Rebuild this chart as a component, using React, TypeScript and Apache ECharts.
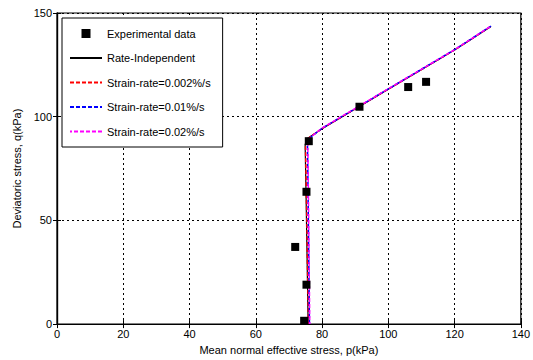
import React, { useEffect, useRef } from "react";
import * as echarts from "echarts";

const expP = [74.6, 75.3, 71.9, 75.3, 76.0, 91.3, 106.0, 111.4];
const expQ = [1.6, 19.0, 37.2, 63.8, 88.2, 104.8, 114.3, 116.8];

const rateIndepP = [75.8, 75.5, 75.2, 74.9, 75.6, 80, 100, 120, 131];
const rateIndepQ = [0, 30, 60, 86.5, 89.5, 94.2, 113.2, 132.2, 143.5];

const sr002P = [75.9, 75.6, 75.3, 75.0, 75.8, 80, 100, 120, 131];
const sr002Q = [0, 30, 60, 86.8, 89.6, 94.3, 113.3, 132.2, 143.6];

const sr01P = [76.2, 76.0, 75.8, 75.6, 76.3, 80, 100, 120, 131];
const sr01Q = [0, 30, 60, 87.2, 89.8, 94.4, 113.4, 132.3, 143.7];

const sr02P = [76.3, 76.1, 75.9, 75.7, 76.4, 80, 100, 120, 131];
const sr02Q = [0, 30, 60, 87.4, 89.9, 94.5, 113.5, 132.3, 143.7];

const zip = (a: number[], b: number[]) => a.map((v, i) => [v, b[i]]);

const FONT = "Liberation Sans, Arial, sans-serif";

export default function App() {
  const ref = useRef<HTMLDivElement>(null);
  useEffect(() => {
    if (!ref.current) return;
    const chart = echarts.init(ref.current, undefined, { renderer: "svg" });
    const gridLine = { show: true, lineStyle: { color: "#000", type: [2, 3] as any, width: 1 } };
    const hideSym = { opacity: 0 };
    chart.setOption({
      animation: false,
      backgroundColor: "#fff",
      textStyle: { fontFamily: FONT },
      grid: { left: 57, right: 12, top: 13, bottom: 34, show: true, borderColor: "#000", borderWidth: 1.2, backgroundColor: "transparent" },
      legend: {
        orient: "vertical",
        left: 62,
        top: 18,
        width: 156,
        backgroundColor: "#fff",
        borderColor: "#000",
        borderWidth: 1,
        borderRadius: 0,
        padding: [9, 12, 9, 7],
        itemWidth: 32,
        itemHeight: 9,
        itemGap: 11.5,
        textStyle: { fontFamily: FONT, fontSize: 11, color: "#000", lineHeight: 13 },
        data: [
          { name: "Experimental data", icon: "path://M0,0h10v10h-10z", itemStyle: { color: "#000", opacity: 1 } },
          { name: "Rate-Independent", itemStyle: hideSym },
          { name: "Strain-rate=0.002%/s", itemStyle: hideSym },
          { name: "Strain-rate=0.01%/s", itemStyle: hideSym },
          { name: "Strain-rate=0.02%/s", itemStyle: hideSym },
        ],
      },
      xAxis: [
        {
          type: "value",
          min: 0,
          max: 140,
          interval: 20,
          name: "Mean normal effective stress, p(kPa)",
          nameLocation: "middle",
          nameGap: 18,
          nameTextStyle: { fontFamily: FONT, fontSize: 11, color: "#000" },
          axisLine: { show: true, lineStyle: { color: "#000", width: 1.2 } },
          axisTick: { show: true, inside: true, length: 4, lineStyle: { color: "#000" } },
          axisLabel: { fontFamily: FONT, fontSize: 11, color: "#000", margin: 4 },
          splitLine: gridLine,
        },
        {
          type: "value",
          position: "top",
          min: 0,
          max: 140,
          interval: 20,
          axisLine: { show: true, lineStyle: { color: "#000", width: 1.2 } },
          axisTick: { show: true, inside: true, length: 4, lineStyle: { color: "#000" } },
          axisLabel: { show: false },
          splitLine: { show: false },
        },
      ],
      yAxis: [
        {
          type: "value",
          min: 0,
          max: 150,
          interval: 50,
          name: "Deviatoric stress, q(kPa)",
          nameLocation: "middle",
          nameGap: 30,
          nameTextStyle: { fontFamily: FONT, fontSize: 11, color: "#000" },
          axisLine: { show: true, lineStyle: { color: "#000", width: 1.2 } },
          axisTick: { show: true, inside: true, length: 4, lineStyle: { color: "#000" } },
          axisLabel: { fontFamily: FONT, fontSize: 11, color: "#000", margin: 5 },
          splitLine: gridLine,
        },
        {
          type: "value",
          position: "right",
          min: 0,
          max: 150,
          interval: 50,
          axisLine: { show: true, lineStyle: { color: "#000", width: 1.2 } },
          axisTick: { show: true, inside: true, length: 4, lineStyle: { color: "#000" } },
          axisLabel: { show: false },
          splitLine: { show: false },
        },
      ],
      series: [
        {
          name: "Rate-Independent",
          type: "line",
          data: zip(rateIndepP, rateIndepQ),
          showSymbol: false,
          symbol: "none",
          lineStyle: { color: "#000", width: 1.2, type: "solid" },
          itemStyle: { color: "#000" },
          z: 2,
        },
        {
          name: "Strain-rate=0.002%/s",
          type: "line",
          data: zip(sr002P, sr002Q),
          showSymbol: false,
          symbol: "none",
          lineStyle: { color: "#ff0000", width: 1.5, type: [4, 2] },
          itemStyle: { color: "#ff0000" },
          z: 3,
        },
        {
          name: "Strain-rate=0.01%/s",
          type: "line",
          data: zip(sr01P, sr01Q),
          showSymbol: false,
          symbol: "none",
          lineStyle: { color: "#0000ff", width: 1.5, type: [4, 2] },
          itemStyle: { color: "#0000ff" },
          z: 4,
        },
        {
          name: "Strain-rate=0.02%/s",
          type: "line",
          data: zip(sr02P, sr02Q),
          showSymbol: false,
          symbol: "none",
          lineStyle: { color: "#ff00ff", width: 1.5, type: [4, 2], dashOffset: 2 },
          itemStyle: { color: "#ff00ff" },
          z: 5,
        },
        {
          name: "Experimental data",
          type: "scatter",
          data: zip(expP, expQ),
          symbol: "rect",
          symbolSize: 8,
          itemStyle: { color: "#000", opacity: 1 },
          z: 6,
        },
      ],
    });
    return () => chart.dispose();
  }, []);
  return <div ref={ref} style={{ width: 533, height: 360, position: "absolute", left: 0, top: 0 }} />;
}
